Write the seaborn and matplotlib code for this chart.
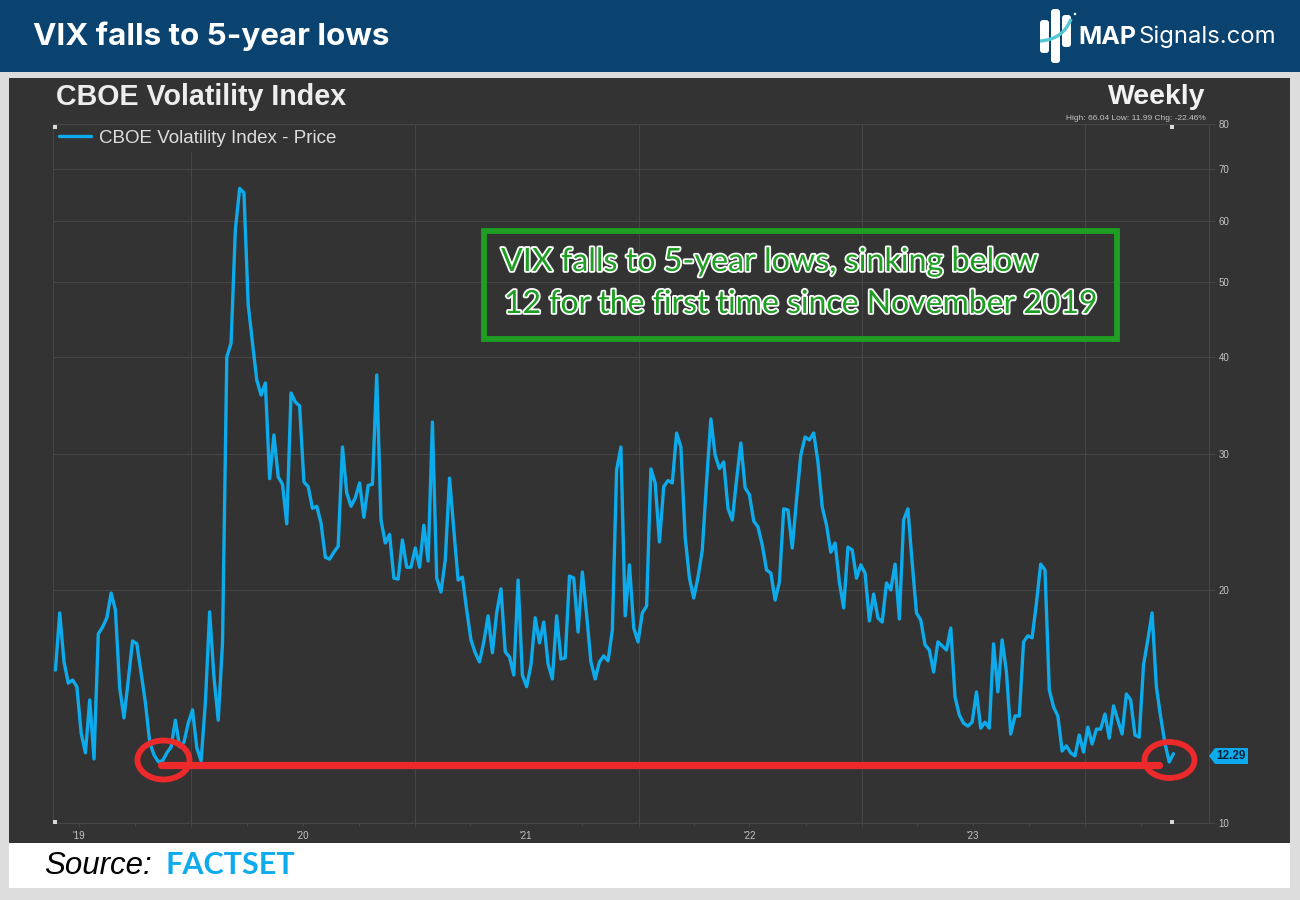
"""
VIX hebdo sur 5 ans, facon graphique FactSet avec bandeau MAPSignals.
"""
import numpy as np
import pandas as pd
import matplotlib
matplotlib.use("Agg")
import matplotlib.pyplot as plt
import matplotlib.patheffects as pe
from matplotlib.patches import Rectangle, Ellipse, Polygon, FancyBboxPatch, PathPatch
from matplotlib.path import Path
import seaborn as sns

# Valeurs
vix = [
    15.76, 18.68, 16.15, 15.16, 15.30, 15.00, 13.07, 12.32, 14.42, 12.10,
    17.55, 17.91, 18.41, 19.82, 18.85, 14.95, 13.67, 15.30, 17.19, 17.04,
    15.63, 14.30, 12.72, 12.25, 12.00, 12.03, 12.32, 12.54, 13.58, 12.54,
    12.72, 13.46, 14.00, 12.50, 12.03, 14.30, 18.74, 15.44, 13.58, 17.09,
    40.00, 41.70, 58.40, 66.04, 65.20, 46.70, 41.70, 37.35, 35.72, 37.02,
    27.85, 31.72, 28.00, 27.40, 24.35, 35.94, 34.99, 34.58, 27.58, 27.20,
    25.50, 25.66, 24.40, 22.05, 21.92, 22.38, 22.78, 30.60, 26.70, 25.66,
    26.30, 27.50, 24.83, 27.30, 27.40, 37.91, 24.63, 23.00, 23.60, 20.72,
    20.66, 23.21, 21.40, 21.40, 22.66, 21.40, 24.25, 21.80, 32.96, 20.72,
    19.88, 21.87, 27.90, 23.90, 20.60, 20.78, 18.85, 17.24, 16.59, 16.15,
    17.14, 18.52, 16.59, 18.68, 20.07, 16.64, 16.39, 15.53, 20.60, 15.53,
    15.00, 16.00, 18.41, 17.09, 18.18, 16.05, 15.35, 18.52, 16.29, 16.34,
    20.85, 20.72, 17.65, 21.10, 18.57, 16.15, 15.35, 16.15, 16.44, 16.20,
    17.75, 28.58, 30.60, 18.52, 21.55, 17.86, 17.14, 18.68, 19.07, 28.67,
    27.50, 23.07, 27.20, 27.70, 27.50, 31.90, 30.60, 23.42, 20.72, 19.53,
    20.78, 22.53, 27.58, 33.26, 29.88, 28.70, 29.27, 25.50, 24.63, 27.75,
    30.97, 27.10, 26.56, 24.56, 24.13, 22.86, 21.23, 21.03, 19.41, 20.48,
    25.46, 25.38, 22.66, 26.15, 29.88, 31.53, 31.25, 31.90, 29.27, 25.60,
    24.25, 22.38, 23.00, 20.48, 18.96, 22.72, 22.53, 20.72, 21.55, 21.03,
    18.24, 19.76, 18.41, 18.18, 20.42, 20.00, 21.60, 18.35, 24.63, 25.46,
    21.68, 18.68, 18.29, 16.99, 16.73, 15.67, 17.14, 16.94, 16.73, 17.86,
    14.55, 13.79, 13.46, 13.34, 13.50, 14.77, 13.26, 13.50, 13.26, 17.04,
    14.77, 17.24, 15.67, 13.03, 13.75, 13.75, 17.14, 17.45, 17.35, 19.24,
    21.60, 21.23, 14.86, 14.12, 13.75, 12.39, 12.58, 12.32, 12.21, 12.99,
    12.35, 13.30, 12.65, 13.22, 13.22, 13.83, 12.87, 14.17, 13.58, 13.03,
    14.68, 14.42, 12.99, 12.91, 16.00, 17.24, 18.68, 15.00, 13.71, 12.68,
    11.99, 12.29,
]
y_ticks = [10, 20, 30, 40, 50, 60, 70, 80]
year_starts = ["2020-01-01", "2021-01-01", "2022-01-01", "2023-01-01", "2024-01-01"]
year_mids = ["2019-07-01", "2020-07-01", "2021-07-01", "2022-07-01", "2023-07-01"]
year_labels = ["'19", "'20", "'21", "'22", "'23"]
quarter_ticks = ["2019-10-01", "2020-04-01", "2020-10-01", "2021-04-01", "2021-10-01",
                 "2022-04-01", "2022-10-01", "2023-04-01", "2023-10-01", "2024-04-01"]

df = pd.DataFrame({
    "date": pd.date_range(end="2024-05-24", periods=len(vix), freq="W-FRI"),
    "vix": vix,
})

W, H = 1300, 900
DARK = "#333333"
BLUE = "#0DABEC"
RED = "#EC2A2B"
GREEN = "#1E9E22"
GRID = "#474747"
TICK = "#C4C4C4"

sns.set_theme(style="dark")
plt.rcParams["font.family"] = ["Liberation Sans", "DejaVu Sans"]

fig = plt.figure(figsize=(13, 9), dpi=100, facecolor="#DDDDDD")


def fx(x):
    return x / W


def fy(y):
    return 1 - y / H


def rect(x0, y0, x1, y1, color, z=-1):
    fig.add_artist(Rectangle((fx(x0), fy(y1)), (x1 - x0) / W, (y1 - y0) / H,
                             transform=fig.transFigure, facecolor=color,
                             edgecolor="none", zorder=z))


def label(x, y, s, **kw):
    kw.setdefault("va", "center")
    fig.text(fx(x), fy(y), s, **kw)


# Fonds : bandeau, panneau sombre, bande source
rect(0, 0, 1300, 72, "#0A4370")
rect(9, 78, 1290, 843, DARK)
rect(9, 843, 1290, 888, "white")

# Axe principal
ax = fig.add_axes([fx(53), fy(823), (1209 - 53) / W, 699 / H], facecolor=DARK)
sns.lineplot(data=df, x="date", y="vix", ax=ax, color=BLUE, linewidth=2.4,
             label="CBOE Volatility Index - Price", zorder=3)
ax.set_yscale("log")
ax.set_ylim(10, 80)
ax.set_xlim(pd.Timestamp("2019-05-20"), pd.Timestamp("2024-07-21"))
ax.set_xlabel("")
ax.set_ylabel("")

ax.yaxis.tick_right()
ax.set_yticks(y_ticks)
ax.set_yticklabels([str(v) for v in y_ticks])
ax.minorticks_off()
ax.tick_params(axis="y", which="major", right=True, left=False, length=4, width=0.7,
               color=GRID, labelcolor=TICK, labelsize=7, pad=3)

ax.set_xticks(pd.to_datetime(year_starts))
ax.set_xticklabels([""] * len(year_starts))
ax.set_xticks(pd.to_datetime(year_mids + quarter_ticks), minor=True)
ax.set_xticklabels(year_labels + [""] * len(quarter_ticks), minor=True)
ax.tick_params(axis="x", which="major", bottom=True, length=3, width=0.7, color=GRID)
ax.tick_params(axis="x", which="minor", bottom=True, length=2, width=0.7, color=GRID,
               labelcolor=TICK, labelsize=7, pad=4)

ax.grid(True, which="major", color=GRID, linewidth=0.7)
ax.set_axisbelow(True)
for side in ["top", "left", "right", "bottom"]:
    ax.spines[side].set_visible(True)
    ax.spines[side].set_color(GRID)
    ax.spines[side].set_linewidth(0.7)

leg = ax.legend(loc="upper left", frameon=True, facecolor=DARK, edgecolor="none", framealpha=1,
                fontsize=13.5, labelcolor="#DEDEDE", handlelength=1.75, handletextpad=0.4,
                borderaxespad=0, borderpad=0.3, bbox_to_anchor=(0.0, 1.0))
leg.set_zorder(2)

# Trait rouge des plus bas
ax.hlines(11.9, pd.Timestamp("2019-11-13"), pd.Timestamp("2024-05-01"),
          color=RED, linewidth=5.2, capstyle="round", zorder=4)

# Cercles rouges
for cx, cy, w, h in [(163.5, 760, 52, 39), (1169.5, 760, 50, 36)]:
    fig.add_artist(Ellipse((fx(cx), fy(cy)), w / W, h / H, transform=fig.transFigure,
                           facecolor="none", edgecolor=RED, linewidth=4.2, zorder=5))

# Petits carres blancs du graphique
for sx, sy in [(55, 127), (55, 822), (1172, 127), (1172, 822)]:
    rect(sx - 2, sy - 2, sx + 2, sy + 2, "#D8D8D8", z=6)

# Etiquette de derniere valeur
fig.add_artist(Polygon([(fx(1209), fy(756)), (fx(1215), fy(748)), (fx(1248), fy(748)),
                        (fx(1248), fy(764)), (fx(1215), fy(764))],
                       transform=fig.transFigure, facecolor=BLUE, edgecolor="none", zorder=5))
label(1231, 756, f"{vix[-1]:.2f}", color="#06243A", fontsize=8.5, fontweight="bold",
      ha="center", zorder=6)

# Cadre vert et texte
fig.add_artist(Rectangle((fx(484), fy(339)), 633 / W, 108 / H, transform=fig.transFigure,
                         facecolor="none", edgecolor=GREEN, linewidth=4.2, zorder=5))
outline = [pe.withStroke(linewidth=2.6, foreground="white")]
for x, y, s, size in [(501, 262, "VIX falls to 5-year lows, sinking below", 23.2),
                      (504, 304, "12 for the first time since November 2019", 23)]:
    fig.text(fx(x), fy(y), s, color=GREEN, fontsize=size, family=["Lato", "DejaVu Sans"],
             va="center", path_effects=outline, zorder=6)

# Titres
label(33, 36, "VIX falls to 5-year lows", color="white", fontsize=22.6, fontweight="bold",
      family=["Inter", "DejaVu Sans"])
label(56, 97, "CBOE Volatility Index", color="#EDEDED", fontsize=20.6, fontweight="bold")
label(1205, 97, "Weekly", color="#F2F2F2", fontsize=20.4, fontweight="bold", ha="right")
label(1206, 119, "High: 66.04 Low: 11.99 Chg: -22.46%", color=TICK, fontsize=6.05, ha="right")

# Source
label(44, 866, "Source:", color="black", fontsize=22.5, style="italic")
label(165, 865, "FACTSET", color=BLUE, fontsize=22, fontweight="bold",
      family=["Lato", "DejaVu Sans"])

# Logo MAPSignals
for x0, y0, x1, y1 in [(1040, 20, 1049, 53), (1051, 9, 1060, 63), (1062, 15, 1071, 47)]:
    fig.add_artist(FancyBboxPatch((x0 + 3, H - y1 + 3), x1 - x0 - 6, y1 - y0 - 6,
                                  boxstyle="round,pad=3", facecolor="white", edgecolor="none",
                                  transform=None, zorder=3))
swoosh = Path([(1040, H - 41), (1056, H - 40), (1066, H - 32), (1071, H - 19)],
              [Path.MOVETO, Path.CURVE4, Path.CURVE4, Path.CURVE4])
fig.add_artist(PathPatch(swoosh, facecolor="none", edgecolor="#55C6D6", linewidth=2.4,
                         transform=None, zorder=4))
fig.add_artist(Ellipse((fx(1075), fy(14)), 2.5 / W, 2.5 / H, transform=fig.transFigure,
                       facecolor="white", edgecolor="none", zorder=4))
label(1078, 37, "MAP", color="white", fontsize=18, fontweight="bold",
      family=["Inter", "DejaVu Sans"])
label(1139, 37, "Signals.com", color="white", fontsize=17.2,
      family=["Inter", "DejaVu Sans"])

fig.savefig("out.png", dpi=100, facecolor=fig.get_facecolor())
plt.close(fig)
print("points:", len(vix))
